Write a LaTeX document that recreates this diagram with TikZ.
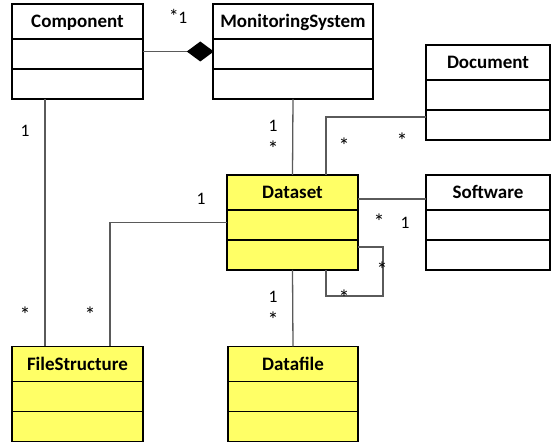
\documentclass[tikz,border=0pt]{standalone}
\usepackage{fontspec}
\setmainfont{Carlito}
\usetikzlibrary{arrows.meta}
\definecolor{clsyellow}{HTML}{FFFF66}
\definecolor{conngray}{HTML}{5A5A5A}
\tikzset{
  clsbox/.style={draw=black, line width=1.6pt, minimum height=95pt, inner sep=0pt, outer sep=0pt, anchor=north west},
  clstitle/.style={font=\fontsize{19}{22}\selectfont\bfseries, anchor=base, inner sep=0pt},
  clsline/.style={draw=black, line width=1.6pt},
  conn/.style={draw=conngray, line width=1.3pt},
  lbl/.style={font=\fontsize{17.5}{20}\selectfont, anchor=base, inner sep=0pt, text=black},
  astlbl/.style={font=\fontsize{22}{24}\selectfont, anchor=base, inner sep=0pt, text=black}
}
\newcommand{\umlclass}[6]{%
  \node[clsbox, fill=#5, minimum width=#4pt] (#1) at (#2,#3) {};
  \node[clstitle] (#1-t) at ([yshift=-24pt]#1.north) {#6};
  \draw[clsline] ([yshift=-35pt]#1.north west) -- ([yshift=-35pt]#1.north east);
  \draw[clsline] ([yshift=-65pt]#1.north west) -- ([yshift=-65pt]#1.north east);
}
\begin{document}
\begin{tikzpicture}[x=1pt,y=-1pt]
\useasboundingbox (0,0) rectangle (552,443);
\umlclass{comp}{12}{4}{131}{white}{Component}
\umlclass{mon}{213}{4}{160}{white}{MonitoringSystem}
\umlclass{doc}{426}{45}{124}{white}{Document}
\umlclass{ds}{227}{175}{131}{clsyellow}{Dataset}
\umlclass{sw}{426}{175}{124}{white}{Software}
\umlclass{fs}{12}{346.5}{131}{clsyellow}{FileStructure}
\umlclass{df}{228}{346.5}{130}{clsyellow}{Datafile}
% connectors
\draw[conn, -{Diamond[length=27pt,width=20pt,color=black,fill=black]}, shorten >=-0.8pt] (comp.east) -- (mon.west);
\draw[conn] ([xshift=33pt]comp.south west) -- ([xshift=33pt]fs.north west);
\draw[conn] (ds.west) -| ([xshift=98pt]fs.north west);
\draw[conn] (mon.south) -- (ds.north);
\draw[conn] (ds.south) -- (df.north);
\draw[conn] ([yshift=-24pt]ds.north east) -- ([yshift=-24pt]sw.north west);
\draw[conn] ([xshift=99pt]ds.north west) |- ([yshift=-72pt]doc.north west);
\draw[conn] ([yshift=-72pt]ds.north east) -- ++(25pt,0pt) -- ++(0pt,-49pt) -| ([xshift=99pt]ds.south west);
% labels
\node[lbl] (l1) at (178,24) {{\fontsize{20}{22}\selectfont *}\kern-0.5pt1};
\node[lbl] (l2) at (25,136.5) {1};
\node[astlbl] (l3) at (25,323) {*};
\node[astlbl] (l4) at (90,323) {*};
\node[lbl] (l5) at (201,204.5) {1};
\node[lbl] (l6) at (273,131.5) {1};
\node[astlbl] (l7) at (273,157) {*};
\node[astlbl] (l8) at (344,154) {*};
\node[astlbl] (l9) at (402,149) {*};
\node[astlbl] (l10) at (379,230) {*};
\node[lbl] (l11) at (405,228.5) {1};
\node[astlbl] (l12) at (382,278) {*};
\node[astlbl] (l13) at (344,306) {*};
\node[lbl] (l14) at (273,302.5) {1};
\node[astlbl] (l15) at (273,328) {*};
\end{tikzpicture}
\end{document}
